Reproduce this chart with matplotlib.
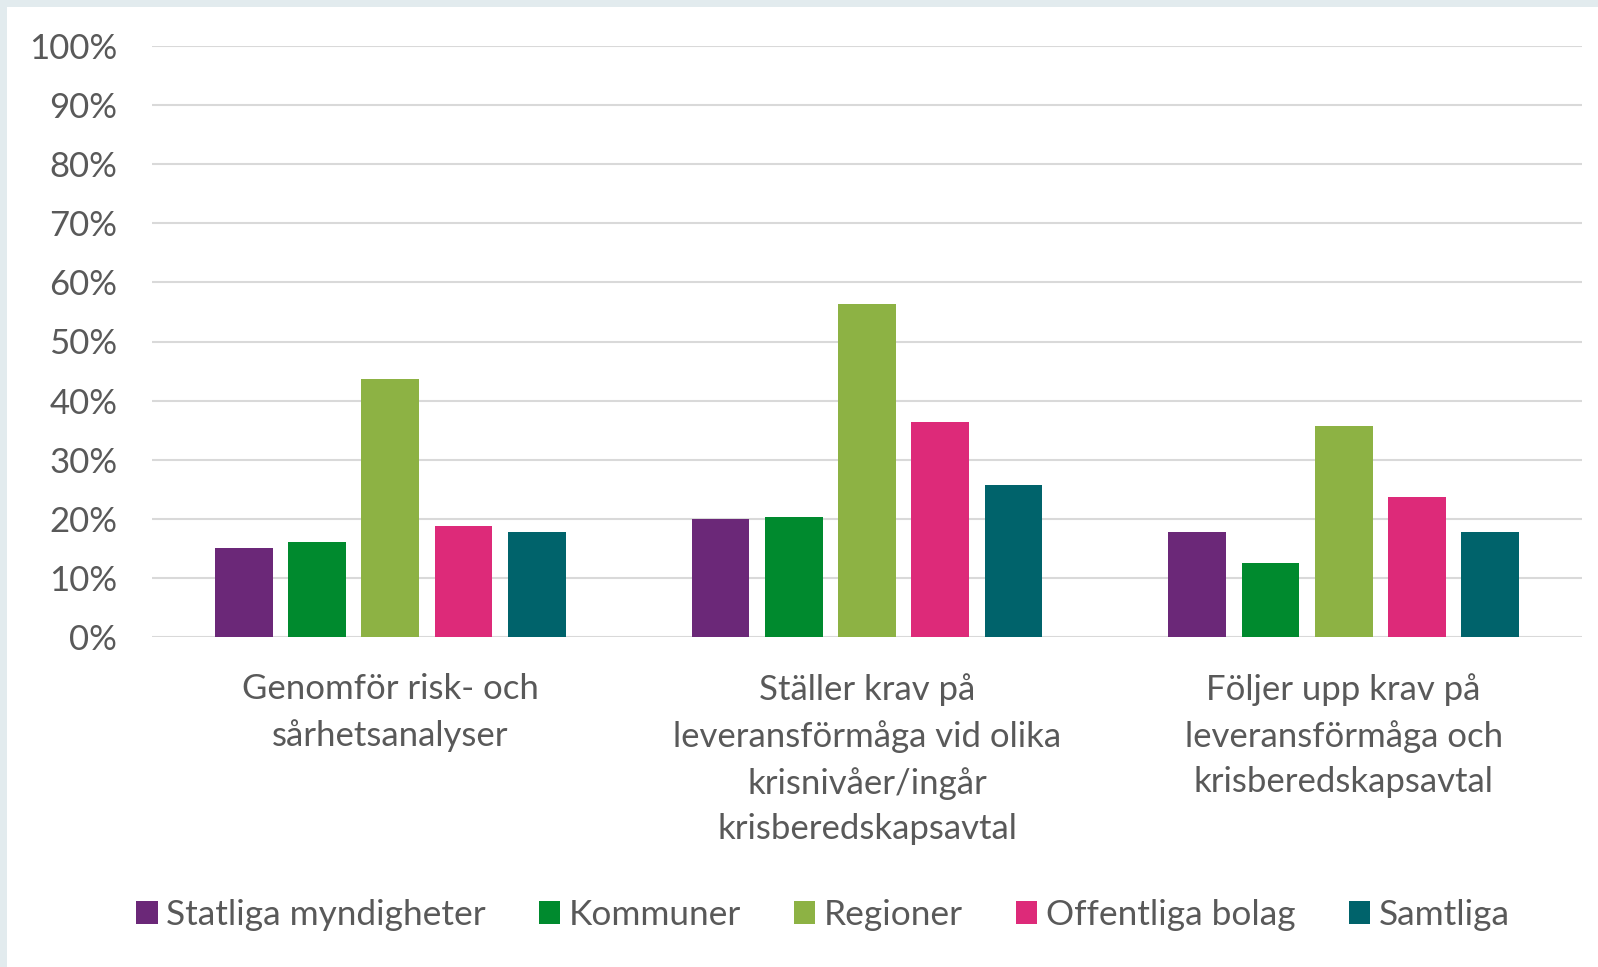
import matplotlib
matplotlib.use("Agg")
import matplotlib.pyplot as plt
from matplotlib.patches import Patch, Rectangle
from matplotlib.ticker import MultipleLocator, PercentFormatter
import numpy as np

categories = [
    "Genomför risk- och\nsårhetsanalyser",
    "Ställer krav på\nleveransförmåga vid olika\nkrisnivåer/ingår\nkrisberedskapsavtal",
    "Följer upp krav på\nleveransförmåga och\nkrisberedskapsavtal",
]
series_names = ["Statliga myndigheter", "Kommuner", "Regioner", "Offentliga bolag", "Samtliga"]
statliga = [15.1, 19.9, 17.7]
kommuner = [16.1, 20.3, 12.6]
regioner = [43.6, 56.3, 35.7]
offentliga = [18.8, 36.3, 23.7]
samtliga = [17.7, 25.7, 17.7]
colors = ["#6b2878", "#008a2e", "#8db244", "#dd2a79", "#00636b"]

plt.rcParams["font.family"] = ["Lato", "DejaVu Sans"]
TXT = "#595959"

fig = plt.figure(figsize=(15.98, 9.67), dpi=100)
fig.patch.set_facecolor("#e2ebee")
fig.add_artist(Rectangle((7 / 1598, 0), 1, 1 - 7 / 967, transform=fig.transFigure,
                         facecolor="white", edgecolor="none", zorder=0))

ax = fig.add_axes([152 / 1598, 1 - 637 / 967, 1430 / 1598, 591 / 967])
ax.set_facecolor("none")

x = np.arange(len(categories))
data = [statliga, kommuner, regioner, offentliga, samtliga]
step = 0.1538
width = 0.121
for i, (vals, c, name) in enumerate(zip(data, colors, series_names)):
    ax.bar(x + (i - 2) * step, vals, width=width, color=c, label=name, zorder=3)

ax.set_xlim(-0.5, 2.5)
ax.set_ylim(0, 100)
ax.yaxis.set_major_locator(MultipleLocator(10))
ax.yaxis.set_major_formatter(PercentFormatter(decimals=0))
ax.grid(axis="y", color="#d9d9d9", linewidth=1.5, zorder=0)
for s in ax.spines.values():
    s.set_visible(False)
ax.tick_params(axis="both", length=0, colors=TXT, labelsize=25)
ax.tick_params(axis="y", pad=25)
ax.set_xticks(x)
ax.set_xticklabels(categories, linespacing=1.52)
ax.tick_params(axis="x", pad=26)

handles = [Patch(facecolor=c, edgecolor="none") for c in colors]
leg = fig.legend(handles, series_names, loc="center", bbox_to_anchor=(0.515, 1 - 915 / 967),
                 ncol=5, frameon=False, fontsize=25.4, handlelength=0.6, handleheight=0.6,
                 handletextpad=0.25, columnspacing=1.5)
for t in leg.get_texts():
    t.set_color(TXT)

fig.savefig("out.png", dpi=100, facecolor=fig.get_facecolor())
